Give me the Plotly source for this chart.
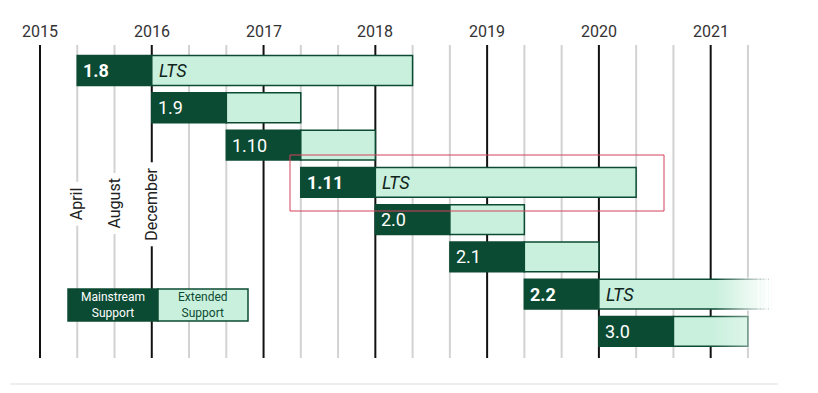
import plotly.graph_objects as go

# ---- data ----
versions = ["1.8", "1.9", "1.10", "1.11", "2.0", "2.1", "2.2", "3.0"]
release = [2015.333, 2016.0, 2016.667, 2017.333, 2018.0, 2018.667, 2019.333, 2020.0]
mainstream_end = [2016.0, 2016.667, 2017.333, 2018.0, 2018.667, 2019.333, 2020.0, 2020.667]
extended_end = [2018.333, 2017.333, 2018.0, 2020.333, 2019.333, 2020.0, 2021.55, 2021.333]
is_lts = [True, False, False, True, False, False, True, False]
fade_start = [None, None, None, None, None, None, 2021.05, 2021.0]
fade_strength = [0, 0, 0, 0, 0, 0, 1.0, 0.4]
years = [2015, 2016, 2017, 2018, 2019, 2020, 2021]
month_labels = ["April", "August", "December"]
month_positions = [2015.333, 2015.667, 2016.0]

DARK = "#0C4B33"
LIGHT = "#C9F0DD"
OFF = 8  # page body margin
W, H = 818 - OFF, 393 - OFF
PX_PER_YEAR = 111.78
X0 = 2015 - (40 - OFF) / PX_PER_YEAR
X1 = X0 + W / PX_PER_YEAR
ROW0, ROWH = 70.5 - OFF, 37.28
Y_TOP = -ROW0 / ROWH
Y_BOT = (H - ROW0) / ROWH
BAR_W = 0.8
FONT = "Roboto"


def px(x):
    return (x - OFF) / W


def py(y):
    return 1 - (y - OFF) / H


rows = list(range(len(versions)))
fig = go.Figure()

# mainstream bars
fig.add_trace(go.Bar(
    orientation="h", y=rows, base=release,
    x=[m - r for m, r in zip(mainstream_end, release)],
    width=BAR_W, marker=dict(color=DARK, line=dict(color=DARK, width=1.5)),
    hoverinfo="skip"))
# extended bars
fig.add_trace(go.Bar(
    orientation="h", y=rows, base=mainstream_end,
    x=[e - m for e, m in zip(extended_end, mainstream_end)],
    width=BAR_W, marker=dict(color=LIGHT, line=dict(color=DARK, width=1.5)),
    hoverinfo="skip"))

# fade overlays
N = 24
for i, fs in enumerate(fade_start):
    if fs is None:
        continue
    end = extended_end[i] + 0.06
    step = (end - fs) / N
    bases, lens, cols, ys = [], [], [], []
    for k in range(N):
        t = (k + 1) / N
        a = min(1.0, fade_strength[i] * 1.15 * t)
        bases.append(fs + k * step)
        lens.append(step * 1.05)
        cols.append(f"rgba(255,255,255,{a:.3f})")
        ys.append(i)
    fig.add_trace(go.Bar(orientation="h", y=ys, base=bases, x=lens,
                         width=BAR_W + 0.1,
                         marker=dict(color=cols, line=dict(width=0)),
                         hoverinfo="skip"))

shapes = []
# grid lines
k = 0
g = 2015.0
while g <= 2021.34:
    isyear = abs(g - round(g)) < 0.01
    shapes.append(dict(type="line", xref="x", yref="paper", x0=g, x1=g,
                       y0=py(45), y1=py(358), layer="below",
                       line=dict(color="#111111" if isyear else "#d2d2d2", width=2)))
    k += 1
    g = 2015.0 + k / 3.0

# bottom rule
shapes.append(dict(type="line", xref="paper", yref="paper", x0=px(10), x1=px(778),
                   y0=py(384), y1=py(384), line=dict(color="#dddddd", width=1)))
# legend boxes
shapes.append(dict(type="rect", xref="paper", yref="paper", x0=px(68), x1=px(158),
                   y0=py(321), y1=py(289), fillcolor=DARK,
                   line=dict(color=DARK, width=1.5)))
shapes.append(dict(type="rect", xref="paper", yref="paper", x0=px(158), x1=px(248),
                   y0=py(321), y1=py(289), fillcolor=LIGHT,
                   line=dict(color=DARK, width=1.5)))
# red highlight
shapes.append(dict(type="rect", xref="paper", yref="paper", x0=px(290), x1=px(664),
                   y0=py(211), y1=py(155), line=dict(color="#d6405c", width=1)))

ann = []
for y in years:
    ann.append(dict(x=y, y=py(31), xref="x", yref="paper", text=str(y),
                    xanchor="center", yanchor="middle", showarrow=False,
                    font=dict(family=FONT, size=16, color="#333333")))
for lab, pos in zip(month_labels, month_positions):
    ann.append(dict(x=pos, y=py(204), xref="x", yref="paper", text=lab,
                    textangle=-90, xanchor="center", yanchor="middle",
                    showarrow=False, bgcolor="white", borderpad=5,
                    font=dict(family=FONT, size=16, color="#222222")))
for i, v in enumerate(versions):
    txt = f"<b>{v}</b>" if is_lts[i] else v
    ann.append(dict(x=release[i], y=i, xref="x", yref="y", text=txt, xanchor="left",
                    yanchor="middle", xshift=4, showarrow=False,
                    font=dict(family=FONT, size=18, color="white")))
    if is_lts[i]:
        ann.append(dict(x=mainstream_end[i], y=i, xref="x", yref="y", text="<i>LTS</i>",
                        xanchor="left", yanchor="middle", xshift=5, showarrow=False,
                        font=dict(family=FONT, size=18, color="#10241c")))
ann.append(dict(x=px(113), y=py(305), xref="paper", yref="paper",
                text="Mainstream<br>Support", showarrow=False,
                xanchor="center", yanchor="middle",
                font=dict(family=FONT, size=12, color="white")))
ann.append(dict(x=px(203), y=py(305), xref="paper", yref="paper",
                text="Extended<br>Support", showarrow=False,
                xanchor="center", yanchor="middle",
                font=dict(family=FONT, size=12, color=DARK)))

fig.update_layout(
    width=W, height=H, margin=dict(l=0, r=0, t=0, b=0, pad=0),
    barmode="overlay", showlegend=False,
    plot_bgcolor="white", paper_bgcolor="white",
    xaxis=dict(range=[X0, X1], visible=False, fixedrange=True),
    yaxis=dict(range=[Y_BOT, Y_TOP], visible=False, fixedrange=True),
    shapes=shapes, annotations=ann,
)
fig.write_html("out.html")
